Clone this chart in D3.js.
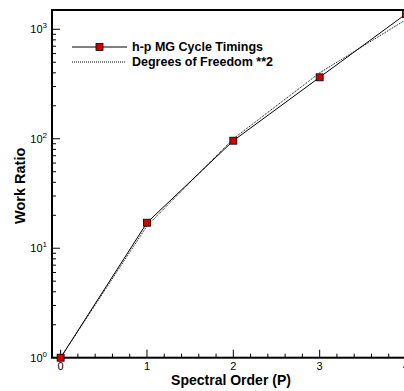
<!DOCTYPE html>
<html>
<head>
<meta charset="utf-8">
<script src="https://cdn.jsdelivr.net/npm/d3@7"></script>
<style>
  html, body { margin: 0; padding: 0; background: #fff; overflow: hidden; }
  svg { display: block; font-family: "Liberation Sans", Arial, sans-serif; }
</style>
</head>
<body>
<svg id="chart" width="404" height="391"></svg>
<script>
// Spectral order P and measured work ratios
const orders = [0, 1, 2, 3, 4];
const cycleTimings = [1, 17.1, 96, 364, 1380];
// Degrees of freedom per tetrahedral element, squared, relative to P=0
const dofSquared = [1, 16, 100, 400, 1225];
const xTicks = [0, 1, 2, 3, 4];
const yTicks = [1, 10, 100, 1000];
const legendLabels = ["h-p MG Cycle Timings", "Degrees of Freedom **2"];

const svg = d3.select("#chart");
const plotLeft = 52, plotTop = 10, plotRight = 406, plotBottom = 357.7;

const x = d3.scaleLinear().domain([-0.1, 4]).range([plotLeft, plotRight]);
const y = d3.scaleLog().domain([1, 1500]).range([plotBottom, plotTop]);

// Frame
svg.append("rect")
  .attr("x", plotLeft).attr("y", plotTop)
  .attr("width", plotRight - plotLeft).attr("height", plotBottom - plotTop)
  .attr("fill", "none").attr("stroke", "#000").attr("stroke-width", 2);

// X ticks (inward), minor every 0.2
const xMinor = d3.range(0, 4.0001, 0.2).filter(v => Math.abs(v - Math.round(v)) > 1e-6);
svg.append("g").selectAll("line").data(xMinor).join("line")
  .attr("x1", d => x(d)).attr("x2", d => x(d))
  .attr("y1", plotBottom).attr("y2", plotBottom - 4)
  .attr("stroke", "#000").attr("stroke-width", 1);
svg.append("g").selectAll("line").data(xTicks).join("line")
  .attr("x1", d => x(d)).attr("x2", d => x(d))
  .attr("y1", plotBottom).attr("y2", plotBottom - 8)
  .attr("stroke", "#000").attr("stroke-width", 1);
svg.append("g").selectAll("text").data(xTicks).join("text")
  .attr("x", d => x(d)).attr("y", plotBottom + 12)
  .attr("text-anchor", "middle")
  .attr("font-size", 11)
  .text(d => d);

// Y ticks (inward), minor ticks at 2..9 within each decade
const yMinor = [];
for (let e = 0; e < 4; e++) for (let m = 2; m <= 9; m++) {
  const v = m * Math.pow(10, e);
  if (v <= 1500) yMinor.push(v);
}
svg.append("g").selectAll("line").data(yMinor).join("line")
  .attr("x1", plotLeft).attr("x2", plotLeft + 4)
  .attr("y1", d => y(d)).attr("y2", d => y(d))
  .attr("stroke", "#000").attr("stroke-width", 1);
svg.append("g").selectAll("line").data(yTicks).join("line")
  .attr("x1", plotLeft).attr("x2", plotLeft + 8)
  .attr("y1", d => y(d)).attr("y2", d => y(d))
  .attr("stroke", "#000").attr("stroke-width", 1);
const yl = svg.append("g").selectAll("text").data(yTicks).join("text")
  .attr("x", plotLeft - 5).attr("y", d => y(d) + 4)
  .attr("text-anchor", "end")
  .attr("font-size", 11);
yl.append("tspan").text("10");
yl.append("tspan").attr("dy", -5).attr("font-size", 8).text(d => Math.round(Math.log10(d)));

// Axis titles
svg.append("text")
  .attr("x", 231).attr("y", 384.5)
  .attr("text-anchor", "middle")
  .attr("font-size", 14).attr("font-weight", "bold")
  .text("Spectral Order (P)");
svg.append("text")
  .attr("transform", `translate(25,${(plotTop + plotBottom) / 2 + 2}) rotate(-90)`)
  .attr("text-anchor", "middle")
  .attr("font-size", 14.5).attr("font-weight", "bold")
  .text("Work Ratio");

const line = d3.line().x((d, i) => x(orders[i])).y(d => y(d));

// Degrees of freedom squared (dotted)
svg.append("path")
  .attr("d", line(dofSquared))
  .attr("fill", "none").attr("stroke", "#000")
  .attr("stroke-width", 1).attr("stroke-dasharray", "1,1");

// Cycle timings (solid with square markers)
svg.append("path")
  .attr("d", line(cycleTimings))
  .attr("fill", "none").attr("stroke", "#000").attr("stroke-width", 1);
svg.append("g").selectAll("rect").data(cycleTimings).join("rect")
  .attr("x", (d, i) => x(orders[i]) - 3.5)
  .attr("y", d => y(d) - 3.5)
  .attr("width", 7).attr("height", 7)
  .attr("fill", "#d00000").attr("stroke", "#000").attr("stroke-width", 0.8);

// Legend
const lg = svg.append("g");
lg.append("line").attr("x1", 72).attr("x2", 127).attr("y1", 47).attr("y2", 47)
  .attr("stroke", "#000").attr("stroke-width", 1);
lg.append("rect").attr("x", 96).attr("y", 43.5).attr("width", 7).attr("height", 7)
  .attr("fill", "#d00000").attr("stroke", "#000").attr("stroke-width", 0.8);
lg.append("line").attr("x1", 72).attr("x2", 126).attr("y1", 62).attr("y2", 62)
  .attr("stroke", "#000").attr("stroke-width", 1).attr("stroke-dasharray", "1,1");
lg.selectAll("text").data(legendLabels).join("text")
  .attr("x", 132).attr("y", (d, i) => 51 + i * 15)
  .attr("font-size", 12.5).attr("font-weight", "bold")
  .text(d => d);
</script>
</body>
</html>
